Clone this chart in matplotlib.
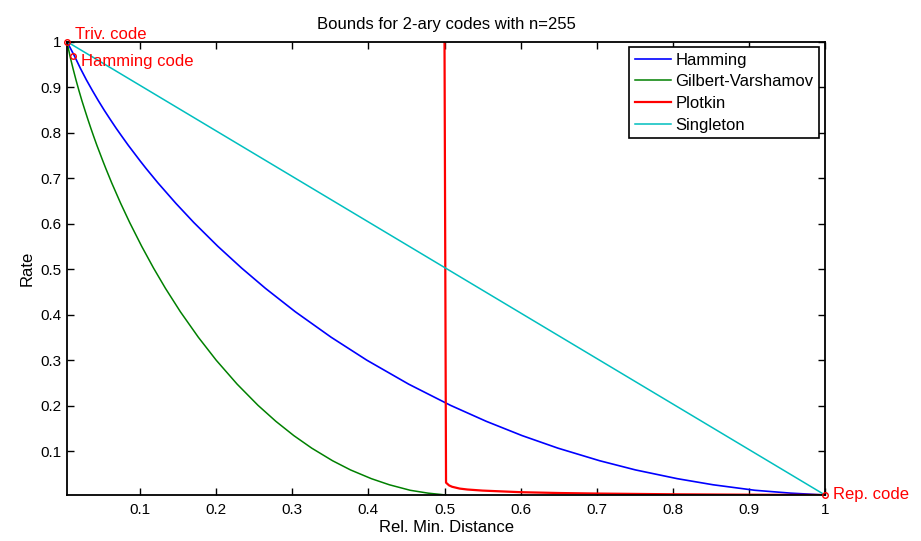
import matplotlib
matplotlib.use('Agg')
import matplotlib.pyplot as plt

plt.rcParams['font.family'] = ['Liberation Sans', 'DejaVu Sans']

# values (relative distance, rate)
hamming_x = [0.0039, 0.0137, 0.0216, 0.0294, 0.0373, 0.0451, 0.0529, 0.0608, 0.0686,
             0.0765, 0.0843, 0.1000, 0.1078, 0.1235, 0.1471, 0.1706, 0.2020, 0.2333,
             0.2647, 0.3039, 0.3510, 0.3980, 0.4529, 0.5078, 0.5549, 0.6020, 0.6490,
             0.7039, 0.7510, 0.8059, 0.8529, 0.9078, 0.9549, 1.0]
hamming_y = [1.0, 0.9686, 0.9412, 0.9161, 0.8926, 0.8704, 0.8493, 0.8291, 0.8096,
             0.7909, 0.7727, 0.7381, 0.7215, 0.6896, 0.6446, 0.6026, 0.5506, 0.5027,
             0.4580, 0.4066, 0.3506, 0.3001, 0.2475, 0.2010, 0.1658, 0.1344, 0.1069,
             0.0792, 0.0590, 0.0398, 0.0264, 0.0143, 0.0080, 0.0039]

gv_x = [0.0039, 0.0078, 0.0118, 0.0157, 0.0196, 0.0235, 0.0275, 0.0314, 0.0353,
        0.0392, 0.0431, 0.0510, 0.0549, 0.0627, 0.0745, 0.0863, 0.1020, 0.1176,
        0.1333, 0.1529, 0.1765, 0.2000, 0.2275, 0.2549, 0.2784, 0.3020, 0.3255,
        0.3529, 0.3765, 0.4039, 0.4275, 0.4549, 0.4784, 0.5020]
gv_y = [1.0, 0.9686, 0.9412, 0.9161, 0.8926, 0.8704, 0.8493, 0.8291, 0.8096,
        0.7909, 0.7727, 0.7381, 0.7215, 0.6896, 0.6446, 0.6026, 0.5506, 0.5027,
        0.4580, 0.4066, 0.3506, 0.3001, 0.2475, 0.2010, 0.1658, 0.1344, 0.1069,
        0.0792, 0.0590, 0.0398, 0.0264, 0.0143, 0.0080, 0.0039]

plotkin_x = [0.5, 0.502, 0.506, 0.51, 0.52, 0.53, 0.55, 0.60, 0.65, 0.70, 0.80, 0.90, 1.0]
plotkin_y = [1.0, 0.031, 0.025, 0.022, 0.018, 0.016, 0.0136, 0.0101, 0.0083, 0.0071,
             0.0055, 0.0046, 0.0039]

singleton_x = [0.0039, 1.0]
singleton_y = [1.0, 0.0039]

ticks = [0.1, 0.2, 0.3, 0.4, 0.5, 0.6, 0.7, 0.8, 0.9, 1]
tick_labels = ['0.1', '0.2', '0.3', '0.4', '0.5', '0.6', '0.7', '0.8', '0.9', '1']

# special codes marked on the plot
codes = [('Triv. code', 1/255, 1.0, 5),
         ('Hamming code', 3/255, 247/255, -4),
         ('Rep. code', 1.0, 1/255, 0)]

fig = plt.figure(figsize=(9.21, 5.41), dpi=100)
ax = fig.add_axes([67/921, 1-495/541, (825-67)/921, (495-41.7)/541])

ax.plot(hamming_x, hamming_y, color=(0, 0, 1), lw=1.2, label='Hamming')
ax.plot(gv_x, gv_y, color=(0, 0.5, 0), lw=1.1, label='Gilbert-Varshamov')
ax.plot(plotkin_x, plotkin_y, color=(1, 0, 0), lw=1.6, label='Plotkin')
ax.plot(singleton_x, singleton_y, color=(0, 0.75, 0.75), lw=1.1, label='Singleton')

for name, cx, cy, dy in codes:
    ax.plot([cx], [cy], 'o', mfc='none', mec='red', ms=4, mew=1, clip_on=False, zorder=5)
    ax.annotate(name, (cx, cy), xytext=(6, dy), textcoords='offset points',
                color='red', fontsize=12, va='center', ha='left', annotation_clip=False)

ax.set_xlim(1/255, 1)
ax.set_ylim(1/255, 1)
ax.set_xticks(ticks)
ax.set_xticklabels(tick_labels)
ax.set_yticks(ticks)
ax.set_yticklabels(tick_labels)
ax.tick_params(direction='in', length=5, width=1, top=True, right=True, labelsize=11)
ax.tick_params(axis='x', pad=6)
ax.tick_params(axis='y', pad=4)
for s in ax.spines.values():
    s.set_linewidth(1.3)

ax.set_title('Bounds for 2-ary codes with n=255', fontsize=12, pad=9)
ax.set_xlabel('Rel. Min. Distance', fontsize=12, labelpad=2)
ax.set_ylabel('Rate', fontsize=12, labelpad=4)

leg = ax.legend(loc='upper right', bbox_to_anchor=(0.9925, 0.989), borderaxespad=0,
                fancybox=False, edgecolor='black', fontsize=12, handlelength=2.2,
                handletextpad=0.25, labelspacing=0.4, borderpad=0.35, framealpha=1)
leg.get_frame().set_linewidth(1.2)

fig.savefig('out.png', dpi=100)
